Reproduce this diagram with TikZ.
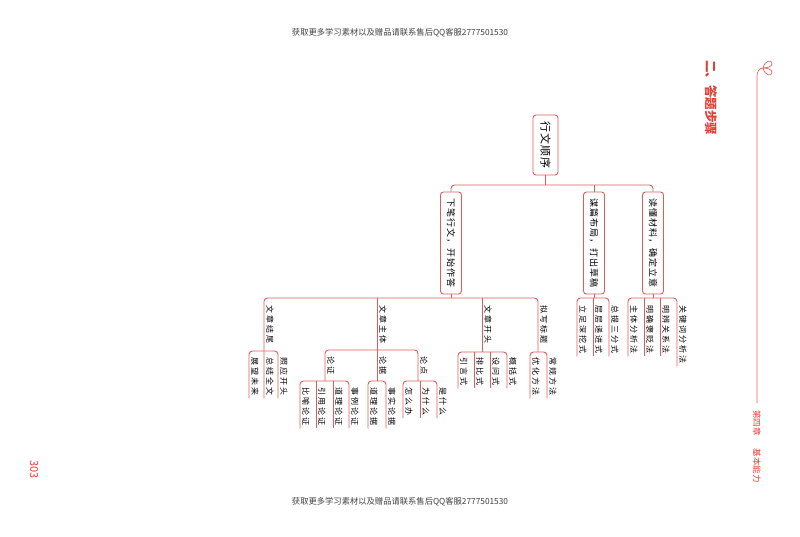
\documentclass[tikz,border=0pt]{standalone}
\usepackage{fontspec}
\setmainfont{Noto Sans CJK SC}
\newfontfamily\hand[LetterSpace=25]{Noto Sans CJK SC}
\newfontfamily\handb[LetterSpace=12]{Noto Sans CJK SC}
\definecolor{lr}{RGB}{224,92,92}
\definecolor{hr}{RGB}{228,62,50}
\tikzset{
  conn/.style={draw=lr, line width=0.9pt, rounded corners=3.5pt},
  lf/.style={rotate=-90, anchor=west, inner sep=0pt, font=\hand\fontsize{8}{8}\selectfont},
  lonebox/.style={draw=lr, line width=0.9pt, rounded corners=3pt, fill=white, rotate=-90,
    inner sep=0pt, minimum width=102pt, minimum height=21pt, font=\handb\fontsize{9}{9}\selectfont},
  rootbox/.style={lonebox, minimum width=60pt, minimum height=25pt, font=\handb\fontsize{11}{11}\selectfont},
  hdr/.style={font=\fontsize{8.3}{9}\selectfont, text=black!75, inner sep=0pt},
  sidetxt/.style={rotate=-90, anchor=west, inner sep=0pt, text=hr},
  deco/.style={draw=hr!80, line width=0.7pt}
}
\newcommand\leafnode[5]{%
  \node[lf] (#1) at ({#2+6},#4) {#5};
  \coordinate (#1t) at (#2,#3);
  \coordinate (#1b) at ([xshift=-6pt,yshift=-3pt]#1.east);
}
\begin{document}
\begin{tikzpicture}[x=1pt,y=-1pt]
\useasboundingbox (0,0) rectangle (800,537);
\fill[white] (0,0) rectangle (800,537);

% headers
\node[hdr] (hdrtop) at (400,33) {获取更多学习素材以及赠品请联系售后QQ客服2777501530};
\node[hdr] (hdrbot) at (400,502) {获取更多学习素材以及赠品请联系售后QQ客服2777501530};

% side decorations
\node[sidetxt, font=\bfseries\fontsize{12.5}{13}\selectfont] (sec) at (711,60) {二、答题步骤};
\node[sidetxt, font=\fontsize{8.5}{9}\selectfont] (chap) at (757,410) {第四章\hspace{13pt}基本能力};
\node[sidetxt, font=\fontsize{11}{11}\selectfont] (pg) at (34,460) {303};
\coordinate (stem) at (763,68);
\draw[deco] (chap.west) ++(0,-7) -- (757,76) to[out=90,in=180] (stem);
\draw[deco] (stem) .. controls (765,60) and (772,59) .. (772,64) .. controls (772,67) and (766,68) .. (stem);
\draw[deco] (stem) .. controls (765,76) and (772,77) .. (772,72) .. controls (772,69) and (766,68) .. (stem);

% root and level 1
\node[rootbox] (root) at (545.5,145) {行文顺序};
\node[lonebox] (b1) at (451,243) {下笔行文，开始作答};
\node[lonebox] (b2) at (594,243) {谋篇布局，打出草稿};
\node[lonebox] (b3) at (653,243) {读懂材料，确定立意};
\coordinate (B0) at (545.5,185);
\draw[conn] (root.east) -- (B0);
\draw[conn] (b1.west) |- (B0) -| (b3.west);
\draw[conn] (B0 -| b2.west) -- (b2.west);

% level 2 under b1
\leafnode{c1}{264}{298}{305}{文章结尾}
\leafnode{c2}{377}{298}{305}{文章主体}
\leafnode{c3}{482}{298}{305}{文章开头}
\leafnode{c4}{538}{298}{305}{拟写标题}
% level 3
\leafnode{d1}{249}{351}{357}{展望未来}
\leafnode{d2}{264}{351}{357}{总结全文}
\leafnode{d3}{278}{351}{357}{照应开头}
\leafnode{e1}{325}{350}{356}{论证}
\leafnode{e2}{377}{350}{356}{论据}
\leafnode{e3}{418}{350}{356}{论点}
\leafnode{k1}{458}{352}{357}{引言式}
\leafnode{k2}{474}{352}{357}{排比式}
\leafnode{k3}{490}{352}{357}{设问式}
\leafnode{k4}{507}{352}{357}{概括式}
\leafnode{m1}{530}{352}{357}{优化方法}
\leafnode{m2}{547}{352}{357}{常规方法}
% level 4
\leafnode{f1}{300}{381}{387}{比喻论证}
\leafnode{f2}{316}{381}{387}{引用论证}
\leafnode{f3}{333}{381}{387}{道理论证}
\leafnode{f4}{349}{381}{387}{事例论证}
\leafnode{g1}{368}{381}{387}{道理论据}
\leafnode{g2}{386}{381}{387}{事实论据}
\leafnode{h1}{403}{381}{387}{怎么办}
\leafnode{h2}{420}{381}{387}{为什么}
\leafnode{h3}{437}{381}{387}{是什么}
% under b2, b3
\leafnode{p1}{577}{298}{305}{立足深挖式}
\leafnode{p2}{593}{298}{305}{层层递进式}
\leafnode{p3}{609}{298}{305}{总提三分式}
\leafnode{q1}{628}{298}{305}{主体分析法}
\leafnode{q2}{644}{298}{305}{明确褒贬法}
\leafnode{q3}{660}{298}{305}{明辨关系法}
\leafnode{q4}{677}{298}{305}{关键词分析法}

% connectors under b1
\coordinate (c4j) at (538,352);
\coordinate (c3j) at (482,352);
\coordinate (gj) at (377,381);
\coordinate (e1j) at (325,381);
\coordinate (e3j) at (418,381);
\draw[conn] (b1.east) -- (b1.east |- c1t);
\draw[conn] (d2b) -- (c1t) -- (c4t) -- (c4j);
\draw[conn] (c2t) -- (gj);
\draw[conn] (c3t) -- (c3j);
% 文章结尾
\draw[conn] (d1b) -- (d1t) -- (d3t) -- (d3b);
% 文章主体
\draw[conn] (e1j) -- (e1t) -- (e3t) -- (e3j);
\draw[conn] (f1b) -- (f1t) -- (f4t) -- (f4b);
\draw[conn] (f2t) -- (f2b);
\draw[conn] (f3t) -- (f3b);
\draw[conn] (g1b) -- (g1t) -- (g2t) -- (g2b);
\draw[conn] (h1b) -- (h1t) -- (h3t) -- (h3b);
\draw[conn] (h2t) -- (h2b);
% 文章开头
\draw[conn] (k1b) -- (k1t) -- (k4t) -- (k4b);
\draw[conn] (k2t) -- (k2b);
\draw[conn] (k3t) -- (k3b);
% 拟写标题
\draw[conn] (m1b) -- (m1t) -- (m2t) -- (m2b);
% 谋篇布局
\draw[conn] (b2.east) -- (b2.east |- p1t);
\draw[conn] (p1b) -- (p1t) -- (p3t) -- (p3b);
\draw[conn] (p2t) -- (p2b);
% 读懂材料
\draw[conn] (b3.east) -- (b3.east |- q1t);
\draw[conn] (q1b) -- (q1t) -- (q4t) -- (q4b);
\draw[conn] (q2t) -- (q2b);
\draw[conn] (q3t) -- (q3b);
\end{tikzpicture}
\end{document}
